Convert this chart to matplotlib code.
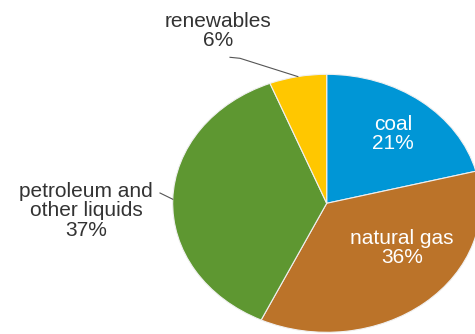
import numpy as np
import matplotlib
matplotlib.use("Agg")
import matplotlib.pyplot as plt

categories = ["coal", "natural gas", "petroleum and\nother liquids", "renewables"]
shares = [21, 36, 37, 6]
colors = ["#0096d6", "#bb7329", "#5e9731", "#ffc700"]

plt.rcParams['font.family'] = ['Liberation Sans', 'DejaVu Sans']

fig = plt.figure(figsize=(4.75, 3.34), dpi=100)
W, H = 475, 334
cx, cy, rx, ry = 326.7, 203.3, 154, 129
ax = fig.add_axes([(cx - rx) / W, (H - cy - ry) / H, 2 * rx / W, 2 * ry / H])

wedges, _ = ax.pie(shares, colors=colors, startangle=90, counterclock=False,
                   radius=1, wedgeprops=dict(edgecolor="#f0f0f0", linewidth=0.8))
for w in wedges:
    w.set_clip_on(False)
ax.set_aspect('auto')
ax.set_xlim(-1, 1)
ax.set_ylim(-1, 1)
ax.axis('off')

def px(x, y):
    return ((x - cx) / rx, (cy - y) / ry)

labels = [f"{c}\n{s}%" for c, s in zip(categories, shares)]
inside_pos = {0: px(393, 134), 1: px(402, 248)}
outside_pos = {3: px(218, 31), 2: px(86, 211)}
fs = 15

for i in (0, 1):
    ax.text(*inside_pos[i], labels[i], ha='center', va='center', color='white',
            fontsize=fs, linespacing=1.05)
for i in (2, 3):
    ax.text(*outside_pos[i], labels[i], ha='center', va='center', color='#333333',
            fontsize=fs, linespacing=1.05, clip_on=False)

# leader lines to wedge mid-angles
for w, i in ((wedges[3], 3), (wedges[2], 2)):
    ang = np.deg2rad((w.theta1 + w.theta2) / 2)
    ex, ey = np.cos(ang), np.sin(ang)
    if i == 3:
        pts = [px(230, 57.3), px(240, 58.3), (ex, ey)]
    else:
        pts = [px(160, 193), (ex, ey)]
    xs, ys = zip(*pts)
    ax.plot(xs, ys, color='#555555', lw=0.8, clip_on=False)

fig.savefig("out.png", dpi=100, facecolor='white')
